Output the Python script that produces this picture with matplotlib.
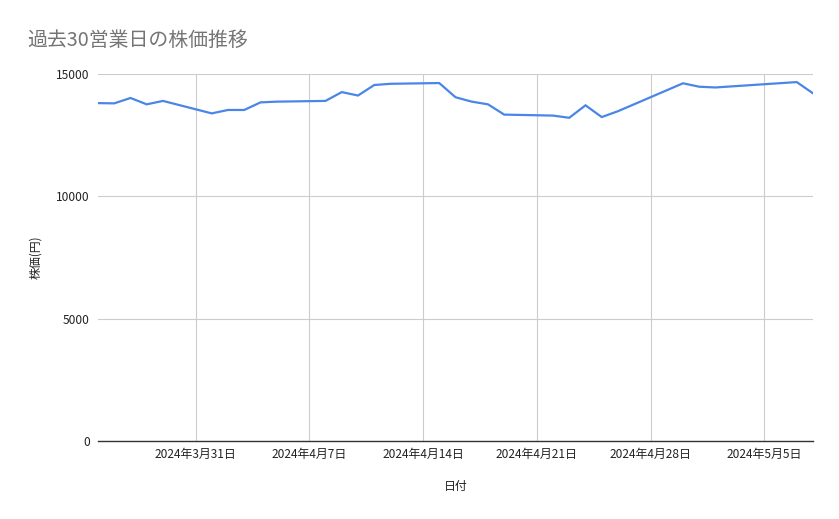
import matplotlib.pyplot as plt
import numpy as np
import pandas as pd

plt.rcParams['font.family'] = ['Noto Sans CJK JP', 'DejaVu Sans']

# 営業日 (祝日・週末を除く)
dates = pd.to_datetime([
    "2024-03-25", "2024-03-26", "2024-03-27", "2024-03-28", "2024-03-29",
    "2024-04-01", "2024-04-02", "2024-04-03", "2024-04-04", "2024-04-05",
    "2024-04-08", "2024-04-09", "2024-04-10", "2024-04-11", "2024-04-12",
    "2024-04-15", "2024-04-16", "2024-04-17", "2024-04-18", "2024-04-19",
    "2024-04-22", "2024-04-23", "2024-04-24", "2024-04-25", "2024-04-26",
    "2024-04-30", "2024-05-01", "2024-05-02", "2024-05-07", "2024-05-08",
])
prices = [
    13810, 13800, 14020, 13760, 13900,
    13390, 13530, 13530, 13840, 13870,
    13900, 14260, 14120, 14550, 14600,
    14630, 14050, 13870, 13760, 13340,
    13300, 13210, 13720, 13240, 13480,
    14620, 14480, 14450, 14670, 14210,
]

tick_dates = pd.date_range("2024-03-31", "2024-05-05", freq="7D")
tick_labels = [f"{d.year}年{d.month}月{d.day}日" for d in tick_dates]
y_ticks = [0, 5000, 10000, 15000]

fig = plt.figure(figsize=(8.39, 5.19), dpi=100)
ax = fig.add_axes([98 / 839, 1 - 441 / 519, (813 - 98) / 839, (441 - 74) / 519])

ax.plot(dates, prices, color="#4a86e8", linewidth=1.6, solid_joinstyle="miter")

ax.set_xlim(pd.Timestamp("2024-03-25"), pd.Timestamp("2024-05-08"))
ax.set_ylim(0, 15000)
ax.set_xticks(tick_dates)
ax.set_xticklabels(tick_labels)
ax.set_yticks(y_ticks)
ax.set_yticklabels([str(v) for v in y_ticks])

ax.grid(True, color="#cccccc", linewidth=0.8)
ax.set_axisbelow(True)
for side in ["top", "right", "left"]:
    ax.spines[side].set_visible(False)
ax.spines["bottom"].set_color("#333333")
ax.spines["bottom"].set_linewidth(1.0)
ax.tick_params(axis="both", length=0, labelsize=8.6, colors="#222222")
ax.tick_params(axis="x", pad=5)
ax.tick_params(axis="y", pad=6)

ax.set_xlabel("日付", fontsize=8.6, color="#222222", labelpad=14)
ax.set_ylabel("株価(円)", fontsize=8.6, color="#222222", labelpad=10)

fig.text(27 / 839, 1 - 40 / 519, "過去30営業日の株価推移", fontsize=14.3,
         color="#757575", va="center", ha="left")

fig.savefig("out.png", dpi=100)
